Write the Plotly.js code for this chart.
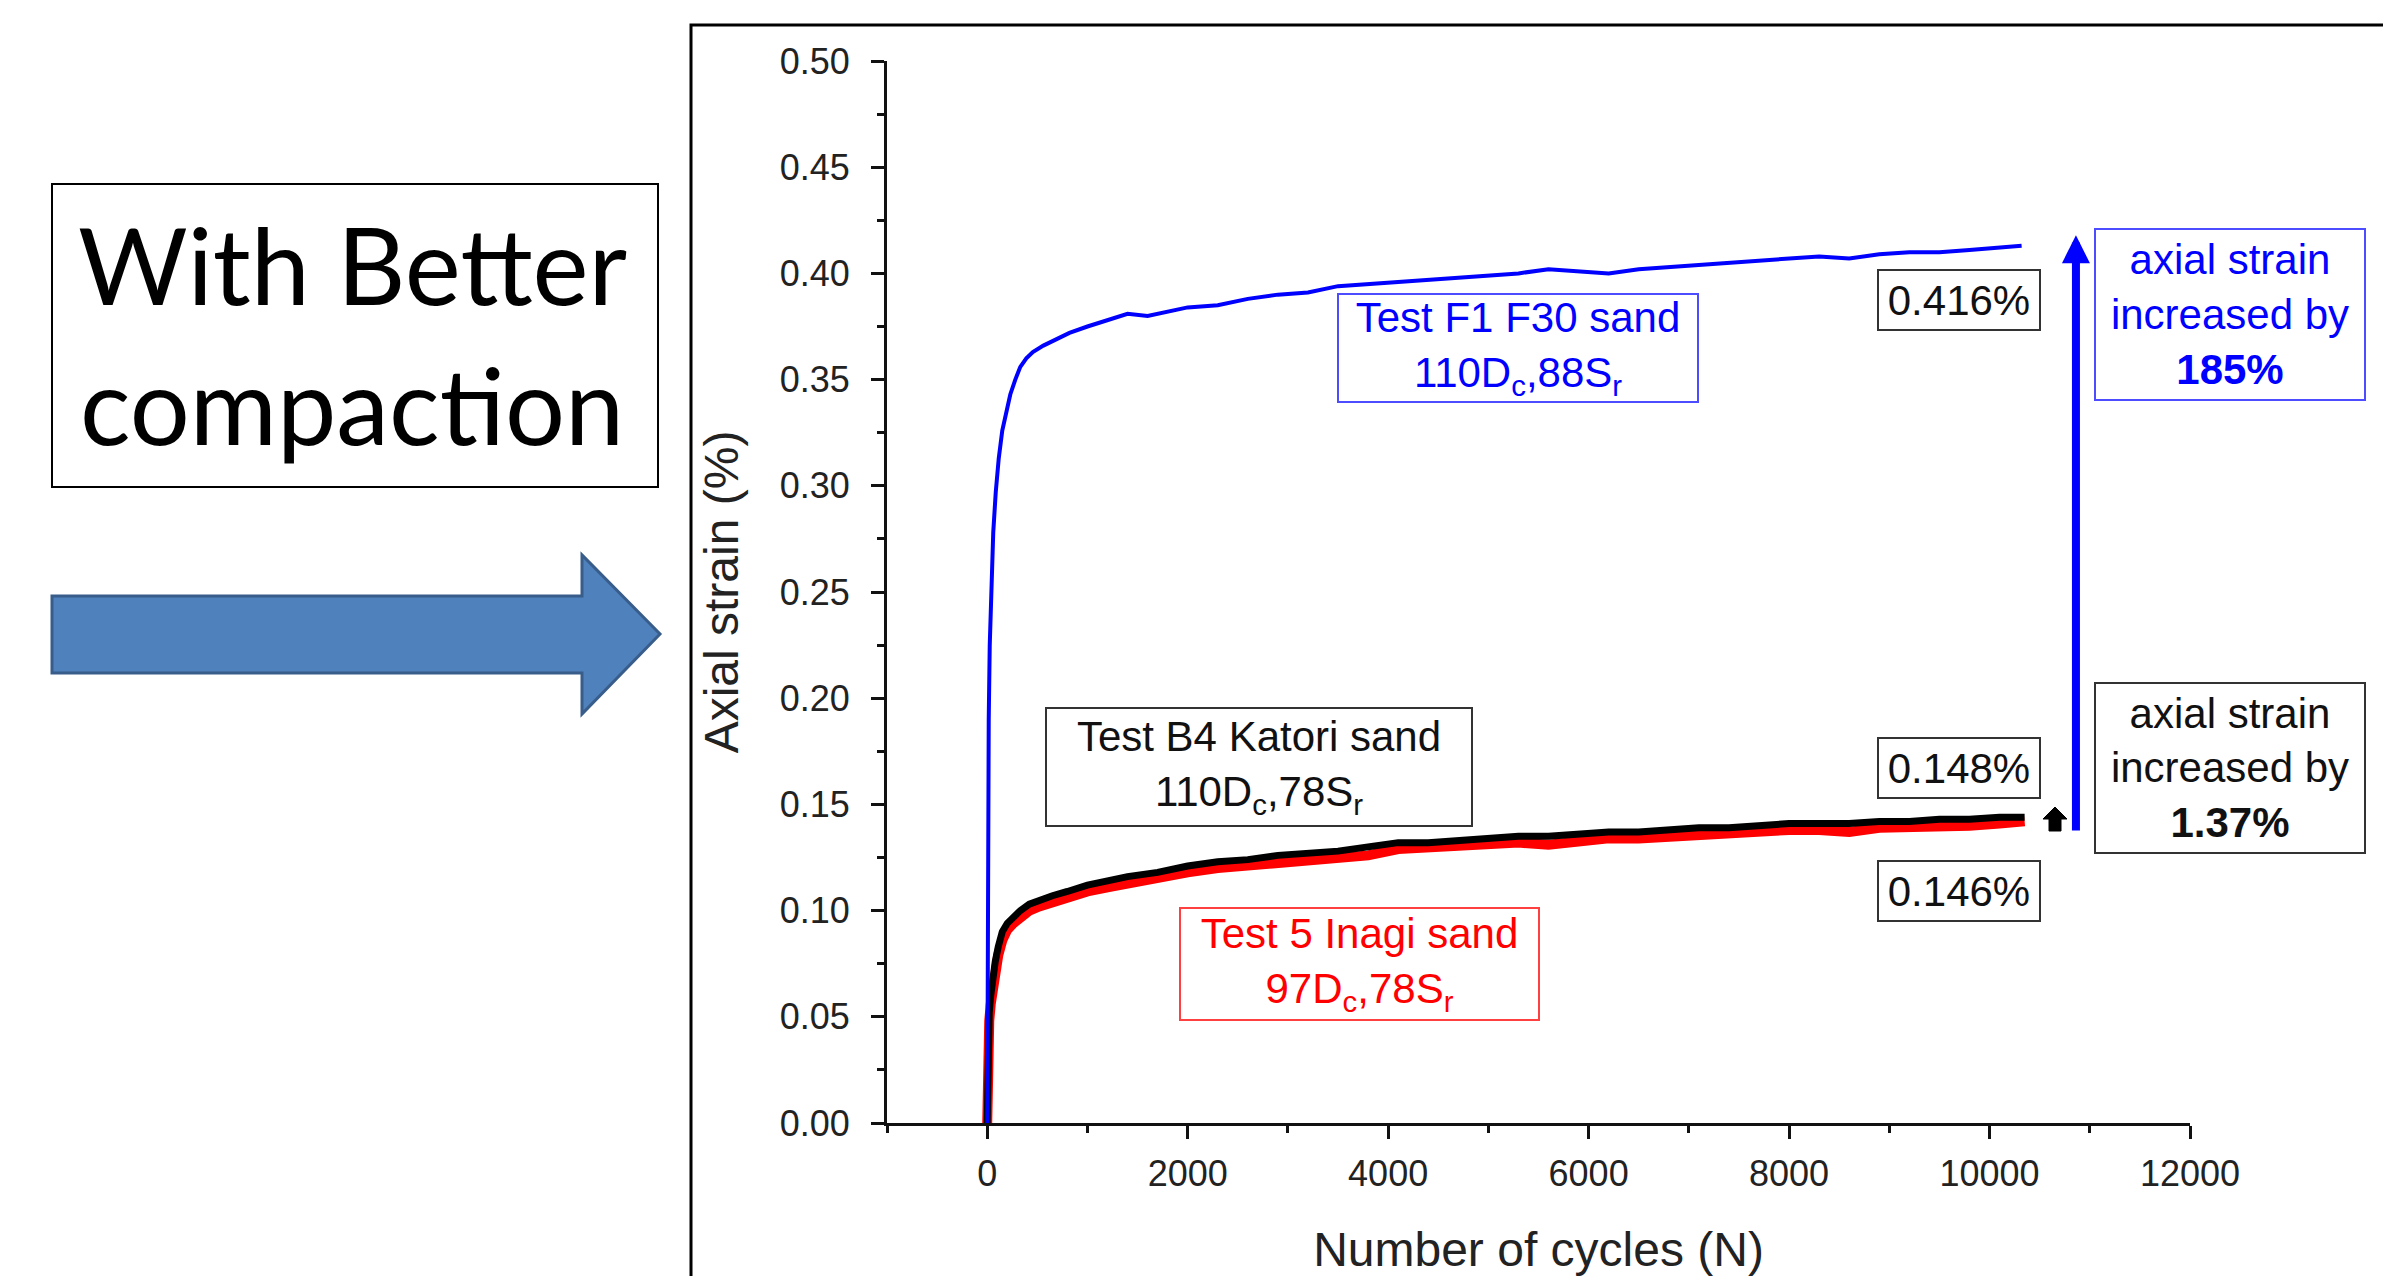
<!DOCTYPE html>
<html>
<head>
<meta charset="utf-8">
<script src="https://cdn.plot.ly/plotly-3.0.1.min.js"></script>
<style>html,body{margin:0;padding:0;background:#fff;}#chart{width:2383px;height:1276px;}</style>
</head>
<body>
<div id="chart"></div>
<script>
// ---- Data ----
const cyclesF1 = [0, 3, 8, 15, 25, 40, 60, 85, 115, 150, 190, 230, 280, 330, 390, 455, 560, 680, 820, 1000, 1200, 1400, 1600, 1800, 2000, 2300, 2600, 2900, 3200, 3500, 3800, 4100, 4400, 4700, 5000, 5300, 5600, 5900, 6200, 6500, 6800, 7100, 7400, 7700, 8000, 8300, 8600, 8900, 9200, 9500, 9800, 10100, 10320];
const strainF1 = [0, 0.09, 0.15, 0.19, 0.225, 0.255, 0.278, 0.297, 0.313, 0.326, 0.335, 0.343, 0.350, 0.356, 0.360, 0.363, 0.366, 0.369, 0.372, 0.375, 0.378, 0.381, 0.380, 0.382, 0.384, 0.385, 0.388, 0.390, 0.391, 0.394, 0.395, 0.396, 0.397, 0.398, 0.399, 0.400, 0.402, 0.401, 0.400, 0.402, 0.403, 0.404, 0.405, 0.406, 0.407, 0.408, 0.407, 0.409, 0.410, 0.410, 0.411, 0.412, 0.413];

const cyclesB4 = [0, 5, 10, 20, 35, 55, 80, 110, 150, 200, 260, 330, 420, 520, 650, 800, 1000, 1200, 1400, 1700, 2000, 2300, 2600, 2900, 3200, 3500, 3800, 4100, 4400, 4700, 5000, 5300, 5600, 5900, 6200, 6500, 6800, 7100, 7400, 7700, 8000, 8300, 8600, 8900, 9200, 9500, 9800, 10100, 10350];
const strainB4 = [0, 0.040, 0.045, 0.052, 0.060, 0.068, 0.076, 0.083, 0.090, 0.094, 0.097, 0.100, 0.103, 0.105, 0.107, 0.109, 0.112, 0.114, 0.116, 0.118, 0.121, 0.123, 0.124, 0.126, 0.127, 0.128, 0.130, 0.132, 0.132, 0.133, 0.134, 0.135, 0.135, 0.136, 0.137, 0.137, 0.138, 0.139, 0.139, 0.140, 0.141, 0.141, 0.141, 0.142, 0.142, 0.143, 0.143, 0.144, 0.144];

const cycles5 = [0, 5, 10, 20, 35, 55, 80, 110, 150, 200, 260, 330, 420, 520, 650, 800, 1000, 1200, 1400, 1700, 2000, 2300, 2600, 2900, 3200, 3500, 3800, 4100, 4400, 4700, 5000, 5300, 5600, 5900, 6200, 6500, 6800, 7100, 7400, 7700, 8000, 8300, 8600, 8900, 9200, 9500, 9800, 10100, 10350];
const strain5 = [0, 0.037, 0.042, 0.048, 0.056, 0.064, 0.072, 0.079, 0.086, 0.091, 0.094, 0.097, 0.100, 0.102, 0.104, 0.106, 0.109, 0.111, 0.113, 0.115, 0.118, 0.120, 0.121, 0.123, 0.124, 0.125, 0.126, 0.129, 0.130, 0.130, 0.132, 0.132, 0.131, 0.133, 0.134, 0.134, 0.135, 0.136, 0.136, 0.137, 0.138, 0.138, 0.137, 0.139, 0.139, 0.140, 0.140, 0.141, 0.142];

const finalLabels = ["0.416%", "0.148%", "0.146%"];
const finalLabelY = [0.3875, 0.1671, 0.1092];
const increaseF1 = "185%";
const increaseB4 = "1.37%";
const xTickVals = [0, 2000, 4000, 6000, 8000, 10000, 12000];

// ---- Layout helpers (pixel -> paper) ----
const W = 2383, H = 1276;
const ML = 887, MR = 193, MT = 61, MB = 153;
const PW = W - ML - MR, PH = H - MT - MB;
const px = v => (v - ML) / PW;
const py = v => (H - MB - v) / PH;
const pathOf = pts => 'M' + pts.map(p => px(p[0]).toFixed(5) + ',' + py(p[1]).toFixed(5)).join(' L') + ' Z';

const FONT = '"Liberation Sans", Arial, sans-serif';

const traces = [
  {x: cycles5, y: strain5, mode: 'lines', name: 'Test 5 Inagi sand', line: {color: '#ff0000', width: 10}, hoverinfo: 'skip'},
  {x: cyclesB4, y: strainB4, mode: 'lines', name: 'Test B4 Katori sand', line: {color: '#000000', width: 7}, hoverinfo: 'skip'},
  {x: cyclesF1, y: strainF1, mode: 'lines', name: 'Test F1 F30 sand', line: {color: '#0000ff', width: 4}, hoverinfo: 'skip'}
];

const boxAnn = (text, x, y, w, h, color, border, extra) => Object.assign({
  text: text, x: x, y: y, xref: 'x', yref: 'y', showarrow: false,
  xanchor: 'center', yanchor: 'middle',
  font: {family: FONT, size: 42, color: color},
  bordercolor: border, borderwidth: 2, borderpad: 0,
  width: w, height: h, align: 'center', bgcolor: 'rgba(255,255,255,0)'
}, extra || {});

const annotations = [
  boxAnn('Test F1 F30 sand<br>110D<sub>c</sub>,88S<sub>r</sub>', 5291, 0.365, 358, 106, '#0000ff', '#4d4dff'),
  boxAnn('Test B4 Katori sand<br>110D<sub>c</sub>,78S<sub>r</sub>', 2715, 0.1676, 424, 116, '#111111', '#333333'),
  boxAnn('Test 5 Inagi sand<br>97D<sub>c</sub>,78S<sub>r</sub>', 3713, 0.0749, 357, 110, '#ff0000', '#ff4040'),
  boxAnn(finalLabels[0], 9694, finalLabelY[0], 160, 58, '#111111', '#333333'),
  boxAnn(finalLabels[1], 9694, finalLabelY[1], 160, 58, '#111111', '#333333'),
  boxAnn(finalLabels[2], 9694, finalLabelY[2], 160, 58, '#111111', '#333333'),
  boxAnn('axial strain<br>increased by<br><b>' + increaseF1 + '</b>', px(2230), py(314), 268, 169, '#0000ff', '#4d4dff', {xref: 'paper', yref: 'paper'}),
  boxAnn('axial strain<br>increased by<br><b>' + increaseB4 + '</b>', px(2230), py(768), 268, 168, '#111111', '#333333', {xref: 'paper', yref: 'paper'}),
  // big blue arrow
  {x: 10862, y: 0.418, ax: 10862, ay: 0.137, xref: 'x', yref: 'y', axref: 'x', ayref: 'y', text: '', showarrow: true,
   arrowcolor: '#0000ff', arrowwidth: 8, arrowhead: 2, arrowsize: 0.7, standoff: 0, startstandoff: 0},
  // left side caption
  {text: 'With Better', xref: 'paper', yref: 'paper', x: px(352), y: py(264), showarrow: false,
   font: {family: 'Lato, "Open Sans", sans-serif', size: 106, color: '#000'}, xanchor: 'center', yanchor: 'middle'},
  {text: 'compaction', xref: 'paper', yref: 'paper', x: px(352), y: py(404), showarrow: false,
   font: {family: 'Lato, "Open Sans", sans-serif', size: 106, color: '#000'}, xanchor: 'center', yanchor: 'middle'}
];

const shapes = [
  // outer frame of the chart panel
  {type: 'rect', xref: 'paper', yref: 'paper', x0: px(691), x1: px(2395), y0: py(1300), y1: py(25), line: {color: '#000', width: 3}, fillcolor: 'rgba(0,0,0,0)', layer: 'below'},
  // box round caption
  {type: 'rect', xref: 'paper', yref: 'paper', x0: px(52), x1: px(658), y0: py(487), y1: py(184), line: {color: '#000', width: 2}, fillcolor: 'rgba(0,0,0,0)'},
  // block arrow
  {type: 'path', xref: 'paper', yref: 'paper',
   path: pathOf([[52, 596], [582, 596], [582, 555], [660, 634], [582, 714], [582, 673], [52, 673]]),
   fillcolor: '#4f81bd', line: {color: '#385d8a', width: 3}},
  // small black block arrow
  {type: 'path', xref: 'paper', yref: 'paper',
   path: pathOf([[2049, 831], [2061, 831], [2061, 819], [2067, 819], [2055, 807], [2043, 819], [2049, 819]]),
   fillcolor: '#000000', line: {color: '#000000', width: 1}}
];

const layout = {
  width: W, height: H,
  margin: {l: ML, r: MR, t: MT, b: MB, pad: 0},
  paper_bgcolor: '#ffffff', plot_bgcolor: '#ffffff',
  showlegend: false,
  font: {family: FONT, color: '#222'},
  xaxis: {
    range: [-1000, 12000], tickvals: xTickVals, ticktext: xTickVals.map(String),
    showgrid: false, zeroline: false, showline: true, linecolor: '#111', linewidth: 3,
    ticks: 'outside', ticklen: 13, tickwidth: 3, tickcolor: '#111', ticklabelstandoff: 4,
    tickfont: {family: FONT, size: 36, color: '#222'},
    minor: {dtick: 1000, tick0: 0, ticks: 'outside', ticklen: 7, tickwidth: 3, tickcolor: '#111', showgrid: false},
    title: {text: 'Number of cycles (N)', font: {family: FONT, size: 48, color: '#222'}, standoff: 40}
  },
  yaxis: {
    range: [0, 0.5], dtick: 0.05, tick0: 0, tickformat: '.2f',
    showgrid: false, zeroline: false, showline: true, linecolor: '#111', linewidth: 3,
    ticks: 'outside', ticklen: 13, tickwidth: 3, tickcolor: '#111', ticklabelstandoff: 14,
    tickfont: {family: FONT, size: 36, color: '#222'},
    minor: {dtick: 0.025, tick0: 0, ticks: 'outside', ticklen: 7, tickwidth: 3, tickcolor: '#111', showgrid: false},
    title: {text: 'Axial strain (%)', font: {family: FONT, size: 48, color: '#222'}, standoff: 26}
  },
  annotations: annotations,
  shapes: shapes
};

Plotly.newPlot('chart', traces, layout, {displayModeBar: false, staticPlot: true});
</script>
</body>
</html>
